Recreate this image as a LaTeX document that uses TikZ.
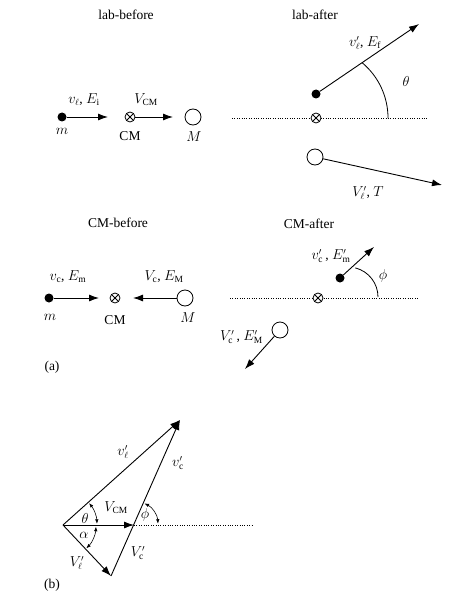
\documentclass[tikz,border=0pt]{standalone}
\usepackage{fontspec}
\setmainfont{Liberation Serif}
\usetikzlibrary{arrows.meta}
\begin{document}
\begin{tikzpicture}[x=1pt,y=1pt,
  vec/.style={line width=0.9pt,-{Latex[length=10pt,width=7pt]}},
  ang/.style={line width=0.6pt,{Latex[length=4.5pt,width=3.5pt]}-{Latex[length=4.5pt,width=3.5pt]}},
  arcl/.style={line width=0.8pt},
  dotp/.style={circle,fill,inner sep=0,minimum size=9pt},
  ball/.style={circle,draw,line width=0.8pt,inner sep=0,minimum size=16pt,fill=white},
  cmx/.style={circle,draw,line width=0.8pt,inner sep=0,minimum size=10pt,fill=white,
    path picture={\draw[line width=0.8pt] (path picture bounding box.north west) -- (path picture bounding box.south east)
      (path picture bounding box.north east) -- (path picture bounding box.south west);}},
  lbl/.style={font=\fontsize{13.5}{16}\selectfont, inner sep=1pt},
  dotline/.style={line width=0.8pt, dash pattern=on 0.8pt off 1.6pt}
]
\useasboundingbox (0,0) rectangle (472,-599);

% ---------- lab-before ----------
\node[lbl] (t1) at (126,-15) {lab-before};
\node[dotp] (m1) at (62,-117) {};
\coordinate (m1e) at (108,-117);
\draw[vec] (m1) -- (m1e);
\node[lbl] (m1v) at (84,-100) {$v_\ell$, $E_{\mathrm{i}}$};
\node[lbl] (m1l) at (62,-131) {$m$};
\node[cmx] (c1) at (130,-117) {};
\coordinate (c1e) at (173,-117);
\draw[vec] (c1) -- (c1e);
\node[lbl] (c1v) at (146,-100) {$V_{\mathrm{CM}}$};
\node[lbl] (c1l) at (130,-136) {CM};
\node[ball] (M1) at (193,-117) {};
\node[lbl] (M1l) at (194,-137) {$M$};

% ---------- lab-after ----------
\node[lbl] (t2) at (315,-15) {lab-after};
\coordinate (d2a) at (232,-118);
\coordinate (d2b) at (428,-118);
\draw[dotline] (d2a) -- (d2b);
\node[cmx] (c2) at (316,-118) {};
\node[dotp] (m2) at (316,-94) {};
\coordinate (m2e) at (419,-24);
\draw[vec] (m2) -- (m2e);
\node[lbl] (m2v) at (365,-43) {$v'_\ell$, $E_{\mathrm{f}}$};
\draw[arcl] (c2.center) ++(0:72) arc[start angle=0,end angle=50,radius=72];
\node[lbl] (th2) at (406,-82) {$\theta$};
\node[ball] (M2) at (315,-157) {};
\coordinate (M2e) at (442,-185);
\draw[vec] (M2) -- (M2e);
\node[lbl] (M2v) at (368,-193) {$V'_\ell$, $T$};

% ---------- CM-before ----------
\node[lbl] (t3) at (118,-223) {CM-before};
\node[dotp] (m3) at (49,-298) {};
\coordinate (m3e) at (99,-298);
\draw[vec] (m3) -- (m3e);
\node[lbl] (m3v) at (68,-277) {$v_{\mathrm{c}}$, $E_{\mathrm{m}}$};
\node[lbl] (m3l) at (50,-317) {$m$};
\node[cmx] (c3) at (115,-298) {};
\node[lbl] (c3l) at (115,-320) {CM};
\node[ball] (M3) at (185,-298) {};
\coordinate (M3e) at (133,-298);
\draw[vec] (M3) -- (M3e);
\node[lbl] (M3v) at (164,-277) {$V_{\mathrm{c}}$, $E_{\mathrm{M}}$};
\node[lbl] (M3l) at (188,-318) {$M$};
\node[lbl] (a) at (52,-367) {(a)};

% ---------- CM-after ----------
\node[lbl] (t4) at (309,-224) {CM-after};
\coordinate (d4a) at (230,-298);
\coordinate (d4b) at (418,-298);
\draw[dotline] (d4a) -- (d4b);
\node[cmx] (c4) at (318,-298) {};
\node[dotp] (m4) at (340,-278) {};
\coordinate (m4e) at (374,-247);
\draw[vec] (m4) -- (m4e);
\node[lbl] (m4v) at (331,-256) {$v'_{\mathrm{c}}$\,, $E'_{\mathrm{m}}$};
\coordinate (phc) at (348,-297);
\draw[arcl] (phc) ++(0:30) arc[start angle=0,end angle=76,radius=30];
\node[lbl] (ph4) at (383,-276) {$\phi$};
\node[ball] (M4) at (280,-330) {};
\coordinate (M4e) at (245,-369);
\draw[vec] (M4) -- (M4e);
\node[lbl,anchor=east] (M4v) at (264,-337) {$V'_{\mathrm{c}}$\,, $E'_{\mathrm{M}}$};

% ---------- (b) ----------
\coordinate (O) at (63,-525);
\coordinate (T) at (180,-420);
\coordinate (C) at (134,-525);
\coordinate (B) at (111,-576);
\coordinate (De) at (253,-525);
\draw[dotline] (C) -- (De);
\draw[vec] (O) -- (T);
\draw[vec] (O) -- (B);
\draw[vec] (O) -- (C);
\draw[vec] (B) -- (T);
\draw[ang] (O) ++(2:34) arc[start angle=2,end angle=40,radius=34];
\draw[ang] (O) ++(-45:33) arc[start angle=-45,end angle=-3,radius=33];
\draw[ang] (C) ++(3:24) arc[start angle=3,end angle=64,radius=24];
\node[lbl] (vl) at (123,-452) {$v'_\ell$};
\node[lbl] (vc) at (178,-463) {$v'_{\mathrm{c}}$};
\node[lbl] (VCM) at (116,-508) {$V_{\mathrm{CM}}$};
\node[lbl] (thb) at (85,-518) {$\theta$};
\node[lbl] (alb) at (84,-535) {$\alpha$};
\node[lbl] (Vl) at (77,-563) {$V'_\ell$};
\node[lbl] (Vc) at (138,-553) {$V'_{\mathrm{c}}$};
\node[lbl] (phb) at (145,-515) {$\phi$};
\node[lbl] (b) at (52,-585) {(b)};
\end{tikzpicture}
\end{document}
